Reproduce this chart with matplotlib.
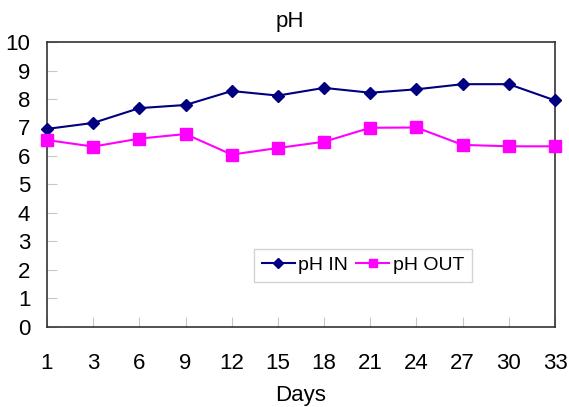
import matplotlib
matplotlib.use("Agg")
import matplotlib.pyplot as plt

# days on the x axis (categorical)
days = ['1', '3', '6', '9', '12', '15', '18', '21', '24', '27', '30', '33']

# pH values
ph_in = [6.95, 7.16, 7.68, 7.79, 8.28, 8.12, 8.39, 8.22, 8.34, 8.52, 8.52, 7.95]
ph_out = [6.56, 6.33, 6.61, 6.77, 6.05, 6.28, 6.50, 6.99, 7.00, 6.39, 6.34, 6.34]

plt.rcParams['font.family'] = ['Liberation Sans', 'DejaVu Sans']

fig = plt.figure(figsize=(5.69, 4.07), dpi=100)
ax = fig.add_axes([0.0826, 0.1966, 0.8928, 0.7002])

idx = range(len(days))
ax.plot(idx, ph_in, color='#000080', marker='D', markersize=6, linewidth=1.5, label='pH IN', clip_on=False, zorder=3)
ax.plot(idx, ph_out, color='#FF00FF', marker='s', markersize=8, linewidth=1.5, label='pH OUT', clip_on=False, zorder=3)

ax.set_xlim(0, len(days) - 1)
ax.set_ylim(0, 10)
ax.set_yticks(range(0, 11))
ax.set_xticks(list(idx))
ax.set_xticklabels(days)
ax.tick_params(direction='in', labelsize=16, length=7, color='#c8c8c8')
ax.tick_params(axis='x', pad=19)
ax.tick_params(axis='y', pad=12)

for s in ax.spines.values():
    s.set_color('#333333')
    s.set_linewidth(1.2)

fig.text(290 / 569, 1 - 22 / 407, 'pH', fontsize=16, ha='center', va='center')
fig.text(301 / 569, 1 - 395 / 407, 'Days', fontsize=16, ha='center', va='center')

ax.legend(loc='upper left', bbox_to_anchor=(0.407, 0.274), borderaxespad=0, ncol=2, fontsize=14,
          frameon=True, fancybox=False, edgecolor='#c8c8c8', handlelength=1.7,
          columnspacing=0.4, handletextpad=0.2, borderpad=0.4, markerscale=0.8)

fig.savefig('out.png', dpi=100)
